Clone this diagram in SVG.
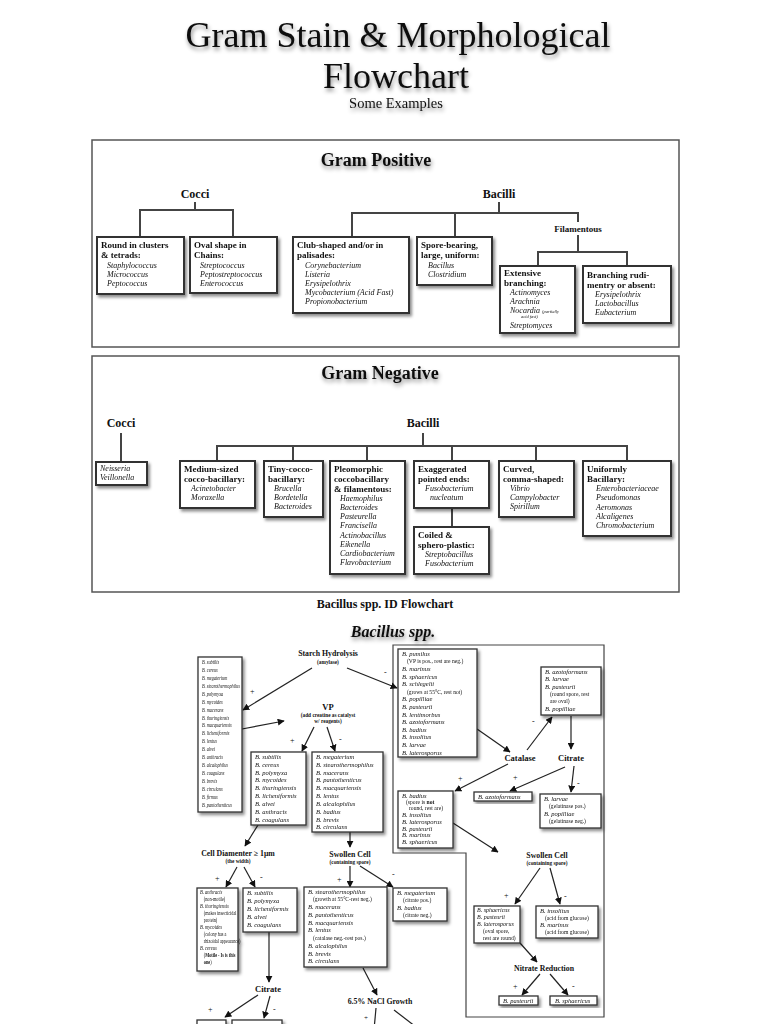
<svg xmlns="http://www.w3.org/2000/svg" width="768" height="1024" viewBox="0 0 768 1024">
<defs>
<style>
text{font-family:"Liberation Serif","Times New Roman",serif;fill:#111}
.title{font-size:36px;text-anchor:middle}
.sub{font-size:14.5px;text-anchor:middle}
.ph{font-size:18px;font-weight:bold;text-anchor:middle}
.cat{font-size:12px;font-weight:bold;text-anchor:middle}
.fil{font-size:9px;font-weight:bold;text-anchor:middle}
.h{font-size:9px;font-weight:bold}
.i{font-size:8px;font-style:italic}
.tiny{font-size:4.5px;font-style:italic}
.box{fill:#fff;stroke:#333;stroke-width:2}
.sbox{fill:#fff;stroke:#333;stroke-width:1.3}
.panel{fill:none;stroke:#555;stroke-width:1.5}
.ln{fill:none;stroke:#444;stroke-width:2}
.ar{fill:none;stroke:#222;stroke-width:1.2;marker-end:url(#ah)}
.lb{font-size:8.5px;font-weight:bold;text-anchor:middle}
.lbm{font-size:7.8px;font-weight:bold;text-anchor:middle}
.lbs{font-size:5.3px;font-weight:bold;text-anchor:middle}
.s{font-size:6.5px;font-style:italic}
.s6{font-size:6px;font-style:italic}
.p{font-size:5.6px}
.sec{font-size:12px;font-weight:bold;text-anchor:middle}
.bac{font-size:16px;font-weight:bold;font-style:italic;text-anchor:middle}
</style>
<filter id="sh" x="-20%" y="-20%" width="150%" height="150%">
<feDropShadow dx="2" dy="2.5" stdDeviation="1.5" flood-color="#000" flood-opacity="0.45"/>
</filter>
<filter id="tsh" x="-10%" y="-30%" width="120%" height="170%">
<feDropShadow dx="1" dy="3" stdDeviation="2" flood-color="#000" flood-opacity="0.45"/>
</filter>
<marker id="ah" viewBox="0 0 10 10" refX="9" refY="5" markerWidth="7" markerHeight="7" markerUnits="userSpaceOnUse" orient="auto">
<path d="M0,0 L10,5 L0,10 z" fill="#111"/>
</marker>
</defs>
<rect width="768" height="1024" fill="#fff"/>

<g id="title" filter="url(#tsh)">
<text class="title" x="398" y="47">Gram Stain &amp; Morphological</text>
<text class="title" x="396" y="88">Flowchart</text>
<text class="sub" x="396" y="108">Some Examples</text>
</g>

<!-- ===== Gram Positive ===== -->
<rect class="panel" x="92" y="140" width="587" height="207"/>
<text class="ph" x="376" y="166" filter="url(#tsh)">Gram Positive</text>

<g id="connectors-gp">
<path class="ln" d="M195,202 V210 M140,237 V210 H233 V237"/>
<path class="ln" d="M499,202 V213 M352,237 V213 H578 V222 M455,213 V237"/>
<path class="ln" d="M578,235 V252 M538,266 V252 H627 V266"/>
</g>

<g id="gp-cocci"><text class="cat" x="195" y="198">Cocci</text></g>
<g id="gp-bacilli"><text class="cat" x="499" y="198">Bacilli</text></g>
<g id="gp-filamentous"><text class="fil" x="578" y="232">Filamentous</text></g>

<g id="gp-round" filter="url(#sh)">
<rect class="box" x="97" y="237" width="87" height="57"/>
<text class="h" x="101" y="248">Round in clusters</text>
<text class="h" x="101" y="258">&amp; tetrads:</text>
<text class="i" x="107" y="268">Staphylococcus</text>
<text class="i" x="107" y="277">Micrococcus</text>
<text class="i" x="107" y="286">Peptococcus</text>
</g>
<g id="gp-oval" filter="url(#sh)">
<rect class="box" x="190" y="237" width="87" height="56"/>
<text class="h" x="194" y="248">Oval shape in</text>
<text class="h" x="194" y="258">Chains:</text>
<text class="i" x="200" y="268">Streptococcus</text>
<text class="i" x="200" y="277">Peptostreptococcus</text>
<text class="i" x="200" y="286">Enterococcus</text>
</g>
<g id="gp-club" filter="url(#sh)">
<rect class="box" x="293" y="237" width="116" height="76"/>
<text class="h" x="297" y="248">Club-shaped and/or in</text>
<text class="h" x="297" y="258">palisades:</text>
<text class="i" x="305" y="268">Corynebacterium</text>
<text class="i" x="305" y="277">Listeria</text>
<text class="i" x="305" y="286">Erysipelothrix</text>
<text class="i" x="305" y="295">Mycobacterium (Acid Fast)</text>
<text class="i" x="305" y="304">Propionobacterium</text>
</g>
<g id="gp-spore" filter="url(#sh)">
<rect class="box" x="417" y="237" width="75" height="48"/>
<text class="h" x="421" y="248">Spore-bearing,</text>
<text class="h" x="421" y="258">large, uniform:</text>
<text class="i" x="428" y="268">Bacillus</text>
<text class="i" x="428" y="277">Clostridium</text>
</g>
<g id="gp-extensive" filter="url(#sh)">
<rect class="box" x="500" y="266" width="75" height="67"/>
<text class="h" x="504" y="276">Extensive</text>
<text class="h" x="504" y="286">branching:</text>
<text class="i" x="510" y="295">Actinomyces</text>
<text class="i" x="510" y="304">Arachnia</text>
<text class="i" x="510" y="313">Nocardia <tspan style="font-size:4.5px">(partially</tspan></text>
<text class="tiny" x="521" y="318">acid fast)</text>
<text class="i" x="510" y="328">Streptomyces</text>
</g>
<g id="gp-branching" filter="url(#sh)">
<rect class="box" x="583" y="266" width="88" height="57"/>
<text class="h" x="587" y="278">Branching rudi-</text>
<text class="h" x="587" y="288">mentry or absent:</text>
<text class="i" x="595" y="297">Erysipelothrix</text>
<text class="i" x="595" y="306">Lactobacillus</text>
<text class="i" x="595" y="315">Eubacterium</text>
</g>

<!-- ===== Gram Negative ===== -->
<rect class="panel" x="92" y="356" width="587" height="236"/>
<text class="ph" x="380" y="379" filter="url(#tsh)">Gram Negative</text>

<g id="connectors-gn">
<path class="ln" d="M121,433 V462"/>
<path class="ln" d="M423,433 V446 M217,461 V446 H627 V461 M293,446 V461 M367,446 V461 M452,446 V461 M536,446 V461"/>
<path class="ln" d="M452,508 V527"/>
</g>

<g id="gn-cocci"><text class="cat" x="121" y="427">Cocci</text></g>
<g id="gn-bacilli"><text class="cat" x="423" y="427">Bacilli</text></g>

<g id="gn-neisseria" filter="url(#sh)">
<rect class="box" x="96" y="462" width="51" height="23"/>
<text class="i" x="100" y="471">Neisseria</text>
<text class="i" x="100" y="480">Veillonella</text>
</g>
<g id="gn-medium" filter="url(#sh)">
<rect class="box" x="180" y="461" width="75" height="47"/>
<text class="h" x="184" y="472">Medium-sized</text>
<text class="h" x="184" y="482">cocco-bacillary:</text>
<text class="i" x="191" y="491">Acinetobacter</text>
<text class="i" x="191" y="500">Moraxella</text>
</g>
<g id="gn-tiny" filter="url(#sh)">
<rect class="box" x="264" y="461" width="59" height="56"/>
<text class="h" x="268" y="472">Tiny-cocco-</text>
<text class="h" x="268" y="482">bacillary:</text>
<text class="i" x="274" y="491">Brucella</text>
<text class="i" x="274" y="500">Bordetella</text>
<text class="i" x="274" y="509">Bacteroides</text>
</g>
<g id="gn-pleomorphic" filter="url(#sh)">
<rect class="box" x="330" y="461" width="75" height="113"/>
<text class="h" x="334" y="472">Pleomorphic</text>
<text class="h" x="334" y="482">coccobacillary</text>
<text class="h" x="334" y="492">&amp; filamentous:</text>
<text class="i" x="340" y="501">Haemophilus</text>
<text class="i" x="340" y="510">Bacteroides</text>
<text class="i" x="340" y="519">Pasteurella</text>
<text class="i" x="340" y="528">Francisella</text>
<text class="i" x="340" y="538">Actinobacillus</text>
<text class="i" x="340" y="547">Eikenella</text>
<text class="i" x="340" y="556">Cardiobacterium</text>
<text class="i" x="340" y="565">Flavobacterium</text>
</g>
<g id="gn-exaggerated" filter="url(#sh)">
<rect class="box" x="414" y="461" width="75" height="47"/>
<text class="h" x="418" y="472">Exaggerated</text>
<text class="h" x="418" y="482">pointed ends:</text>
<text class="i" x="425" y="491">Fusobacterium</text>
<text class="i" x="430" y="500">nucleatum</text>
</g>
<g id="gn-coiled" filter="url(#sh)">
<rect class="box" x="414" y="527" width="75" height="47"/>
<text class="h" x="418" y="538">Coiled &amp;</text>
<text class="h" x="418" y="548">sphero-plastic:</text>
<text class="i" x="425" y="557">Streptobacillus</text>
<text class="i" x="425" y="566">Fusobacterium</text>
</g>
<g id="gn-curved" filter="url(#sh)">
<rect class="box" x="499" y="461" width="75" height="56"/>
<text class="h" x="503" y="472">Curved,</text>
<text class="h" x="503" y="482">comma-shaped:</text>
<text class="i" x="510" y="491">Vibrio</text>
<text class="i" x="510" y="500">Campylobacter</text>
<text class="i" x="510" y="509">Spirillum</text>
</g>
<g id="gn-uniform" filter="url(#sh)">
<rect class="box" x="583" y="461" width="88" height="75"/>
<text class="h" x="587" y="472">Uniformly</text>
<text class="h" x="587" y="482">Bacillary:</text>
<text class="i" x="596" y="491">Enterobacteriaceae</text>
<text class="i" x="596" y="500">Pseudomonas</text>
<text class="i" x="596" y="510">Aeromonas</text>
<text class="i" x="596" y="519">Alcaligenes</text>
<text class="i" x="596" y="528">Chromobacterium</text>
</g>

<!-- ===== Bacillus ===== -->
<text class="sec" x="385" y="608">Bacillus spp. ID Flowchart</text>
<text class="bac" x="393" y="637" filter="url(#tsh)">Bacillus spp.</text>

<polygon points="393,645 604,645 604,1017 466,1017 466,853 393,853" fill="none" stroke="#444" stroke-width="1.2"/>

<g id="connectors-bac">
<line class="ar" x1="312" y1="668" x2="243" y2="710"/>
<line class="ar" x1="347" y1="668" x2="397" y2="688"/>
<line class="ar" x1="242" y1="729" x2="284" y2="721"/>
<line class="ar" x1="314" y1="727" x2="302" y2="751"/>
<line class="ar" x1="327" y1="727" x2="335" y2="751"/>
<line class="ar" x1="258" y1="825" x2="245" y2="846"/>
<line class="ar" x1="350" y1="832" x2="350" y2="847"/>
<line class="ar" x1="237" y1="867" x2="226" y2="887"/>
<line class="ar" x1="244" y1="867" x2="255" y2="887"/>
<line class="ar" x1="269" y1="932" x2="269" y2="982"/>
<line class="ar" x1="258" y1="995" x2="225" y2="1017"/>
<line class="ar" x1="270" y1="996" x2="264" y2="1018"/>
<line class="ar" x1="350" y1="866" x2="350" y2="887"/>
<line class="ar" x1="360" y1="866" x2="393" y2="887"/>
<line class="ar" x1="363" y1="968" x2="377" y2="995"/>
<line stroke="#222" stroke-width="1.2" x1="376" y1="1008" x2="374" y2="1030"/>
<line stroke="#222" stroke-width="1.2" x1="394" y1="1010" x2="420" y2="1030"/>
<line class="ar" x1="477" y1="729" x2="510" y2="752"/>
<line class="ar" x1="527" y1="750" x2="552" y2="717"/>
<line class="ar" x1="571" y1="716" x2="571" y2="749"/>
<line class="ar" x1="565" y1="767" x2="510" y2="791"/>
<line class="ar" x1="574" y1="766" x2="571" y2="792"/>
<line class="ar" x1="508" y1="764" x2="455" y2="791"/>
<line class="ar" x1="453" y1="823" x2="498" y2="852"/>
<line class="ar" x1="540" y1="868" x2="515" y2="904"/>
<line class="ar" x1="550" y1="868" x2="560" y2="904"/>
<line class="ar" x1="520" y1="943" x2="537" y2="962"/>
<line class="ar" x1="540" y1="974" x2="522" y2="995"/>
<line class="ar" x1="550" y1="974" x2="568" y2="995"/>
</g>

<g id="signs" style="font-size:8px">
<text x="250" y="694">+</text>
<text x="384" y="675">-</text>
<text x="290" y="743">+</text>
<text x="339" y="742">-</text>
<text x="215" y="881">+</text>
<text x="260" y="880">-</text>
<text x="208" y="1012">+</text>
<text x="273" y="1012">-</text>
<text x="337" y="882">+</text>
<text x="392" y="877">-</text>
<text x="364" y="1020" style="font-size:7px">+</text>
<text x="532" y="724">-</text>
<text x="513" y="780">+</text>
<text x="577" y="786">-</text>
<text x="458" y="781">+</text>
<text x="504" y="898">+</text>
<text x="564" y="899">-</text>
<text x="513" y="989">+</text>
<text x="572" y="989">-</text>
</g>

<g id="starch"><text class="lbm" x="328" y="656">Starch Hydrolysis</text><text class="lbs" x="328" y="664">(amylase)</text></g>
<g id="vp"><text class="lb" x="328" y="710">VP</text><text class="lbs" x="328" y="717">(add creatine as catalyst</text><text class="lbs" x="328" y="723">w/ reagents)</text></g>

<g id="list-all" filter="url(#sh)">
<rect class="sbox" x="198" y="657" width="44" height="155"/>
<g transform="translate(202,0) scale(0.66,1)">
<text class="s" x="0" y="664">B. subtilis</text>
<text class="s" x="0" y="672">B. cereus</text>
<text class="s" x="0" y="680">B. megaterium</text>
<text class="s" x="0" y="688">B. stearothermophilus</text>
<text class="s" x="0" y="696">B. polymyxa</text>
<text class="s" x="0" y="704">B. mycoides</text>
<text class="s" x="0" y="712">B. macerans</text>
<text class="s" x="0" y="720">B. thuringiensis</text>
<text class="s" x="0" y="727">B. macquariensis</text>
<text class="s" x="0" y="735">B. licheniformis</text>
<text class="s" x="0" y="743">B. lentus</text>
<text class="s" x="0" y="751">B. alvei</text>
<text class="s" x="0" y="759">B. anthracis</text>
<text class="s" x="0" y="767">B. alcalophilus</text>
<text class="s" x="0" y="775">B. coagulans</text>
<text class="s" x="0" y="783">B. brevis</text>
<text class="s" x="0" y="791">B. circulans</text>
<text class="s" x="0" y="799">B. firmus</text>
<text class="s" x="0" y="807">B. pantothenticus</text>
</g>
</g>

<g id="vp-pos" filter="url(#sh)">
<rect class="sbox" x="251" y="752" width="55" height="73"/>
<text class="s" x="255" y="759">B. subtilis</text>
<text class="s" x="255" y="767">B. cereus</text>
<text class="s" x="255" y="775">B. polymyxa</text>
<text class="s" x="255" y="782">B. mycoides</text>
<text class="s" x="255" y="790">B. thuringiensis</text>
<text class="s" x="255" y="798">B. licheniformis</text>
<text class="s" x="255" y="806">B. alvei</text>
<text class="s" x="255" y="814">B. anthracis</text>
<text class="s" x="255" y="822">B. coagulans</text>
</g>
<g id="vp-neg" filter="url(#sh)">
<rect class="sbox" x="312" y="752" width="71" height="80"/>
<text class="s" x="316" y="759">B. megaterium</text>
<text class="s" x="316" y="767">B. stearothermophilus</text>
<text class="s" x="316" y="775">B. macerans</text>
<text class="s" x="316" y="782">B. pantothenticus</text>
<text class="s" x="316" y="790">B. macquariensis</text>
<text class="s" x="316" y="798">B. lentus</text>
<text class="s" x="316" y="806">B. alcalophilus</text>
<text class="s" x="316" y="814">B. badius</text>
<text class="s" x="316" y="822">B. brevis</text>
<text class="s" x="316" y="829">B. circulans</text>
</g>

<g id="cell-diam"><text class="lbm" x="238" y="856">Cell Diamenter ≥ 1μm</text><text class="lbs" x="238" y="863">(the width)</text></g>
<g id="swollen-mid"><text class="lbm" x="350" y="857">Swollen Cell</text><text class="lbs" x="350" y="864">(containing spore)</text></g>

<g id="anthracis" filter="url(#sh)">
<rect class="sbox" x="197" y="888" width="41" height="83"/>
<g transform="translate(200,0) scale(0.76,1)">
<text class="s6" x="0" y="894">B. anthracis</text>
<text class="p" x="5" y="901">(non-motile)</text>
<text class="s6" x="0" y="908">B. thuringiensis</text>
<text class="p" x="5" y="915">(makes insecticidal</text>
<text class="p" x="5" y="922">protein)</text>
<text class="s6" x="0" y="929">B. mycoides</text>
<text class="p" x="5" y="936">(colony has a</text>
<text class="p" x="5" y="943">rhizoidal appearance)</text>
<text class="s6" x="0" y="950">B. cereus</text>
<text class="p" x="5" y="957">(<tspan font-weight="bold">Motile - Is is this</tspan></text>
<text class="p" x="5" y="964"><tspan font-weight="bold">one</tspan>)</text>
</g>
</g>
<g id="diam-neg" filter="url(#sh)">
<rect class="sbox" x="243" y="888" width="54" height="44"/>
<text class="s" x="247" y="895">B. subtilis</text>
<text class="s" x="247" y="903">B. polymyxa</text>
<text class="s" x="247" y="911">B. licheniformis</text>
<text class="s" x="247" y="919">B. alvei</text>
<text class="s" x="247" y="927">B. coagulans</text>
</g>
<g id="citrate-low"><text class="lb" x="268" y="992">Citrate</text></g>
<g id="citrate-pos" filter="url(#sh)"><rect class="sbox" x="197" y="1020" width="29" height="20"/></g>
<g id="citrate-neg" filter="url(#sh)"><rect class="sbox" x="232" y="1020" width="50" height="20"/></g>

<g id="stearo" filter="url(#sh)">
<rect class="sbox" x="304" y="887" width="83" height="80"/>
<text class="s" x="308" y="894">B. stearothermophilus</text>
<text class="p" x="313" y="901">(growth at 55°C-rest neg.)</text>
<text class="s" x="308" y="909">B. macerans</text>
<text class="s" x="308" y="917">B. pantothenticus</text>
<text class="s" x="308" y="925">B. macquariensis</text>
<text class="s" x="308" y="932">B. lentus</text>
<text class="p" x="313" y="940">(catalase neg.-rest pos.)</text>
<text class="s" x="308" y="948">B. alcalophilus</text>
<text class="s" x="308" y="956">B. brevis</text>
<text class="s" x="308" y="963">B. circulans</text>
</g>
<g id="mega-badius" filter="url(#sh)">
<rect class="sbox" x="393" y="888" width="54" height="33"/>
<text class="s" x="397" y="895">B. megaterium</text>
<text class="p" x="403" y="902">(citrate pos.)</text>
<text class="s" x="397" y="910">B. badius</text>
<text class="p" x="403" y="917">(citrate neg.)</text>
</g>
<g id="nacl"><text class="lbm" x="380" y="1004">6.5% NaCl Growth</text></g>

<g id="pumilus" filter="url(#sh)">
<rect class="sbox" x="398" y="649" width="79" height="108"/>
<text class="s" x="402" y="656">B. pumilus</text>
<text class="p" x="407" y="663">(VP is pos., rest are neg.)</text>
<text class="s" x="402" y="671">B. marinus</text>
<text class="s" x="402" y="679">B. sphaericus</text>
<text class="s" x="402" y="686">B. schlegelii</text>
<text class="p" x="407" y="694">(grows at 55°C, rest not)</text>
<text class="s" x="402" y="701">B. popilliae</text>
<text class="s" x="402" y="709">B. pasteurii</text>
<text class="s" x="402" y="717">B. lentimorbus</text>
<text class="s" x="402" y="724">B. azotoformans</text>
<text class="s" x="402" y="732">B. badius</text>
<text class="s" x="402" y="739">B. insolitus</text>
<text class="s" x="402" y="747">B. larvae</text>
<text class="s" x="402" y="755">B. laterosporus</text>
</g>

<g id="catalase"><text class="lb" x="520" y="761">Catalase</text></g>
<g id="citrate-top"><text class="lb" x="571" y="761">Citrate</text></g>

<g id="azoto-group" filter="url(#sh)">
<rect class="sbox" x="541" y="667" width="60" height="48"/>
<text class="s" x="545" y="674">B. azotoformans</text>
<text class="s" x="545" y="681">B. larvae</text>
<text class="s" x="545" y="689">B. pasteurii</text>
<text class="p" x="550" y="696">(round spore, rest</text>
<text class="p" x="550" y="703">are oval)</text>
<text class="s" x="545" y="711">B. popilliae</text>
</g>
<g id="azoto-single" filter="url(#sh)">
<rect class="sbox" x="474" y="792" width="58" height="9"/>
<text class="s" x="478" y="799">B. azotoformans</text>
</g>
<g id="larvae" filter="url(#sh)">
<rect class="sbox" x="540" y="794" width="61" height="34"/>
<text class="s" x="544" y="801">B. larvae</text>
<text class="p" x="549" y="808">(gelatinase pos.)</text>
<text class="s" x="544" y="816">B. popilliae</text>
<text class="p" x="549" y="823">(gelatinase neg.)</text>
</g>
<g id="badius" filter="url(#sh)">
<rect class="sbox" x="398" y="791" width="55" height="57"/>
<text class="s" x="402" y="798">B. badius</text>
<text class="p" x="406" y="804">(spore is <tspan font-weight="bold">not</tspan></text>
<text class="p" x="409" y="810">round, rest are)</text>
<text class="s" x="402" y="817">B. insolitus</text>
<text class="s" x="402" y="824">B. laterosporus</text>
<text class="s" x="402" y="831">B. pasteurii</text>
<text class="s" x="402" y="837">B. marinus</text>
<text class="s" x="402" y="844">B. sphaericus</text>
</g>

<g id="swollen-right"><text class="lbm" x="547" y="858">Swollen Cell</text><text class="lbs" x="547" y="865">(containing spore)</text></g>

<g id="sphaericus" filter="url(#sh)">
<rect class="sbox" x="474" y="906" width="46" height="37"/>
<text class="s6" x="477" y="912">B. sphaericus</text>
<text class="s6" x="477" y="919">B. pasteurii</text>
<text class="s6" x="477" y="926">B. laterosporus</text>
<text class="p" x="483" y="933">(oval spore,</text>
<text class="p" x="483" y="940">rest are round)</text>
</g>
<g id="insolitus" filter="url(#sh)">
<rect class="sbox" x="536" y="906" width="62" height="32"/>
<text class="s" x="540" y="913">B. insolitus</text>
<text class="p" x="545" y="920">(acid from glucose)</text>
<text class="s" x="540" y="927">B. marinus</text>
<text class="p" x="545" y="934">(acid from glucose)</text>
</g>
<g id="nitrate"><text class="lbm" x="544" y="971">Nitrate Reduction</text></g>
<g id="pasteurii" filter="url(#sh)">
<rect class="sbox" x="499" y="996" width="39" height="9"/>
<text class="s" x="503" y="1003">B. pasteurii</text>
</g>
<g id="sphaericus2" filter="url(#sh)">
<rect class="sbox" x="550" y="996" width="47" height="9"/>
<text class="s" x="555" y="1003">B. sphaericus</text>
</g>
</svg>
